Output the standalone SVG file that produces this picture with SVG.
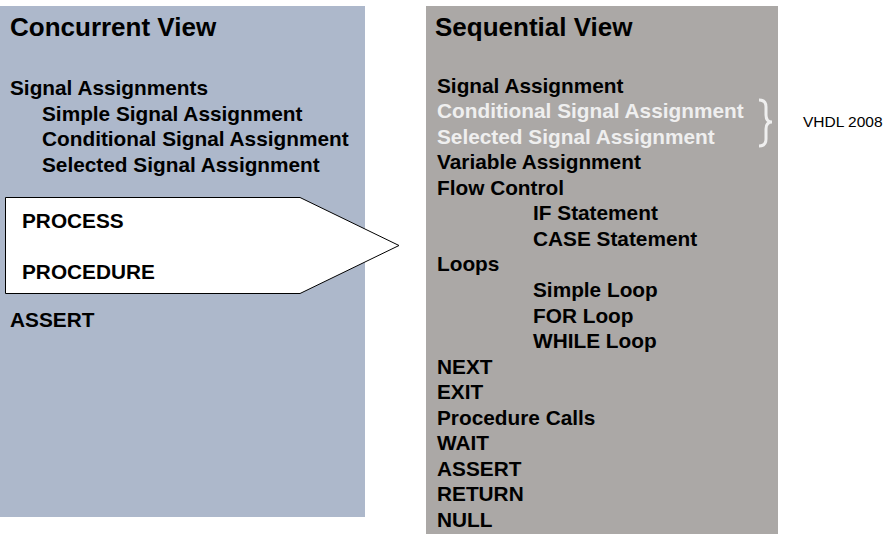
<svg xmlns="http://www.w3.org/2000/svg" width="886" height="534" viewBox="0 0 886 534">
<style>
text{font-family:"Liberation Sans",Arial,sans-serif;font-weight:bold;fill:#000}
.t{font-size:26px}
.b{font-size:20.8px}
.w{fill:#efefef}
.r{font-weight:normal;font-size:15.5px}
</style>
<rect width="886" height="534" fill="#fff"/>
<g id="concurrent">
<rect x="0" y="6" width="365" height="511" fill="#adb8cb"/>
<text class="t" x="10" y="36">Concurrent View</text>
<text class="b" x="10" y="95">Signal Assignments</text>
<text class="b" x="42" y="120.5">Simple Signal Assignment</text>
<text class="b" x="42" y="146">Conditional Signal Assignment</text>
<text class="b" x="42" y="171.5">Selected Signal Assignment</text>
<text class="b" x="10" y="327.3">ASSERT</text>
</g>
<g id="process">
<polygon points="5.5,197.5 300,197.5 399,245.5 300,293.5 5.5,293.5" fill="#fff" stroke="#000" stroke-width="1"/>
<text class="b" x="22" y="228.3">PROCESS</text>
<text class="b" x="22" y="279.3">PROCEDURE</text>
</g>
<g id="sequential">
<rect x="426" y="6" width="352" height="528" fill="#aba8a6"/>
<text class="t" x="435" y="36">Sequential View</text>
<text class="b" x="437" y="92.5">Signal Assignment</text>
<text class="b w" x="437" y="118">Conditional Signal Assignment</text>
<text class="b w" x="437" y="143.6">Selected Signal Assignment</text>
<text class="b" x="437" y="169.2">Variable Assignment</text>
<text class="b" x="437" y="194.7">Flow Control</text>
<text class="b" x="533" y="220.3">IF Statement</text>
<text class="b" x="533" y="245.8">CASE Statement</text>
<text class="b" x="437" y="271.4">Loops</text>
<text class="b" x="533" y="297">Simple Loop</text>
<text class="b" x="533" y="322.5">FOR Loop</text>
<text class="b" x="533" y="348">WHILE Loop</text>
<text class="b" x="437" y="373.6">NEXT</text>
<text class="b" x="437" y="399.2">EXIT</text>
<text class="b" x="437" y="424.7">Procedure Calls</text>
<text class="b" x="437" y="450.3">WAIT</text>
<text class="b" x="437" y="475.8">ASSERT</text>
<text class="b" x="437" y="501.4">RETURN</text>
<text class="b" x="437" y="527">NULL</text>
<path d="M759,100 Q766,100 766,107 L766,115 Q766,122 772,122 Q766,122 766,129 L766,139 Q766,146 759,146" fill="none" stroke="#efefef" stroke-width="3"/>
</g>
<g id="vhdl2008">
<text class="r" x="803" y="127">VHDL 2008</text>
</g>
</svg>
